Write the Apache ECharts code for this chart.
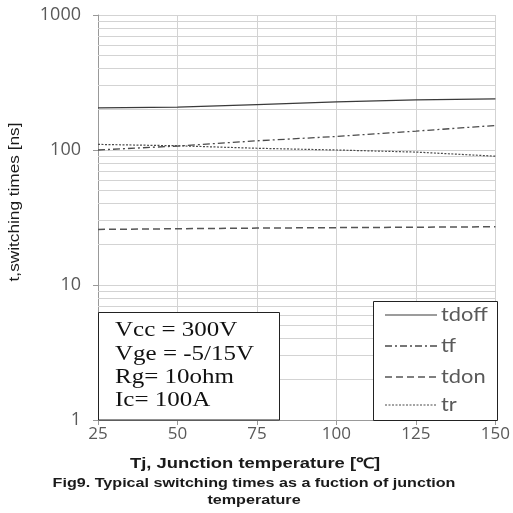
<!DOCTYPE html>
<html>
<head>
<meta charset="utf-8">
<script src="https://cdn.jsdelivr.net/npm/echarts@6/dist/echarts.min.js"></script>
<style>
  html, body { margin: 0; padding: 0; background: #fff; }
  #chart { width: 513px; height: 513px; }
</style>
</head>
<body>
<div id="chart"></div>
<script>
// Junction temperature (°C)
const tempC = [25, 50, 75, 100, 125, 150];

// Switching times (ns)
const tdoff = [205, 208, 217, 227, 235, 239];
const tf    = [100, 107, 117, 126, 138, 152];
const tdon  = [25.8, 26.1, 26.4, 26.6, 26.8, 27.0];
const tr    = [110, 107.5, 103, 100, 96.5, 90];

const seriesNames = ['tdoff', 'tf', 'tdon', 'tr'];

// Minor gridlines of the log axis (2..9 within each decade)
const minorGrid = [2, 3, 4, 5, 6, 7, 8, 9, 20, 30, 40, 50, 60, 70, 80, 90, 200, 300, 400, 500, 600, 700, 800, 900];

// Test conditions
const conditions = ['Vcc = 300V', 'Vge = -5/15V', 'Rg= 10ohm', 'Ic= 100A'];

const lineStyles = {
  tdoff: { color: '#3a3a3a', width: 1.2, type: 'solid' },
  tf:    { color: '#4a4a4a', width: 1.3, type: [7, 3, 2, 3] },
  tdon:  { color: '#555555', width: 1.5, type: [7, 4] },
  tr:    { color: '#4a4a4a', width: 1.2, type: [2, 1.5] }
};
const seriesData = { tdoff, tf, tdon, tr };

const chart = echarts.init(document.getElementById('chart'), null, { renderer: 'canvas' });

const gridColor = '#d3d3d3';
const tickFont = '"Open Sans", Lato, sans-serif';
const sans = '"Liberation Sans", Arial, sans-serif';

const series = seriesNames.map((name, i) => ({
  name,
  type: 'line',
  data: tempC.map((t, k) => [t, seriesData[name][k]]),
  showSymbol: false,
  lineStyle: lineStyles[name],
  z: 5,
  markLine: i === 0 ? {
    silent: true,
    symbol: 'none',
    label: { show: false },
    lineStyle: { color: gridColor, width: 1, type: 'solid' },
    data: minorGrid.map(v => ({ yAxis: v })),
    animation: false,
    z: 1
  } : undefined
}));

// Legend box with sample lines
const legendLeft = 373, legendTop = 301, legendRight = 497, legendBottom = 420;
const legendRows = [315, 346, 377, 405];
const legendGraphics = [{
  type: 'rect',
  shape: { x: legendLeft + 0.5, y: legendTop + 0.5, width: legendRight - legendLeft, height: legendBottom - legendTop },
  style: { fill: '#fff', stroke: '#222', lineWidth: 1 },
  z: 10
}];
seriesNames.forEach((name, i) => {
  const ls = lineStyles[name];
  legendGraphics.push({
    type: 'line',
    shape: { x1: 385, y1: legendRows[i], x2: 437, y2: legendRows[i] },
    style: { stroke: ls.color, lineWidth: ls.width, lineDash: Array.isArray(ls.type) ? ls.type : null },
    z: 11
  });
  legendGraphics.push({
    type: 'text',
    x: 441, y: legendRows[i], scaleX: 1.15,
    style: { text: name, font: '19px Lato, sans-serif', fill: '#595959', textVerticalAlign: 'middle' },
    z: 11
  });
});

// Conditions box
const condGraphics = [{
  type: 'rect',
  shape: { x: 98.5, y: 312.5, width: 181, height: 107.5 },
  style: { fill: '#fff', stroke: '#222', lineWidth: 1 },
  z: 10
}];
const condCenters = [331, 355, 378, 401];
conditions.forEach((txt, i) => {
  condGraphics.push({
    type: 'text',
    x: 115, y: condCenters[i], scaleX: 1.25,
    style: { text: txt, font: '20px "Liberation Serif", "DejaVu Serif", serif', fill: '#111', textVerticalAlign: 'middle' },
    z: 11
  });
});

const textGraphics = [
  {
    type: 'text', x: 15, y: 202, rotation: Math.PI / 2, scaleX: 1.23,
    style: { text: 't,switching times [ns]', font: '14px ' + sans, fill: '#1a1a1a', textAlign: 'center', textVerticalAlign: 'middle' }
  },
  {
    type: 'text', x: 255, y: 464, scaleX: 1.27,
    style: { text: 'Tj, Junction temperature [\u2103]', font: 'bold 14.5px ' + sans, fill: '#1a1a1a', textAlign: 'center', textVerticalAlign: 'middle' }
  },
  {
    type: 'text', x: 254, y: 484, scaleX: 1.29,
    style: { text: 'Fig9. Typical switching times as a fuction of junction', font: 'bold 12.5px ' + sans, fill: '#1a1a1a', textAlign: 'center', textVerticalAlign: 'middle' }
  },
  {
    type: 'text', x: 254, y: 501, scaleX: 1.29,
    style: { text: 'temperature', font: 'bold 12.5px ' + sans, fill: '#1a1a1a', textAlign: 'center', textVerticalAlign: 'middle' }
  }
];

chart.setOption({
  animation: false,
  backgroundColor: '#fff',
  grid: { left: 98, right: 16, top: 15, bottom: 93, containLabel: false },
  xAxis: {
    type: 'value',
    min: 25, max: 150, interval: 25,
    axisLine: { show: true, lineStyle: { color: '#999', width: 1 } },
    axisTick: { show: true, length: 5, lineStyle: { color: '#999' } },
    axisLabel: { color: '#595959', fontSize: 17, fontFamily: tickFont, margin: 6 },
    splitLine: { show: true, lineStyle: { color: gridColor, width: 1 } }
  },
  yAxis: {
    type: 'log',
    logBase: 10,
    min: 1, max: 1000,
    axisLine: { show: true, lineStyle: { color: '#999', width: 1 } },
    axisTick: { show: true, length: 5, inside: false, lineStyle: { color: '#999' } },
    axisLabel: { color: '#595959', fontSize: 18, fontFamily: tickFont, margin: 17, formatter: v => String(Math.round(v)) },
    splitLine: { show: true, lineStyle: { color: gridColor, width: 1 } },
    minorTick: { show: false },
    minorSplitLine: { show: false }
  },
  series,
  graphic: [...condGraphics, ...legendGraphics, ...textGraphics]
});
</script>
</body>
</html>
